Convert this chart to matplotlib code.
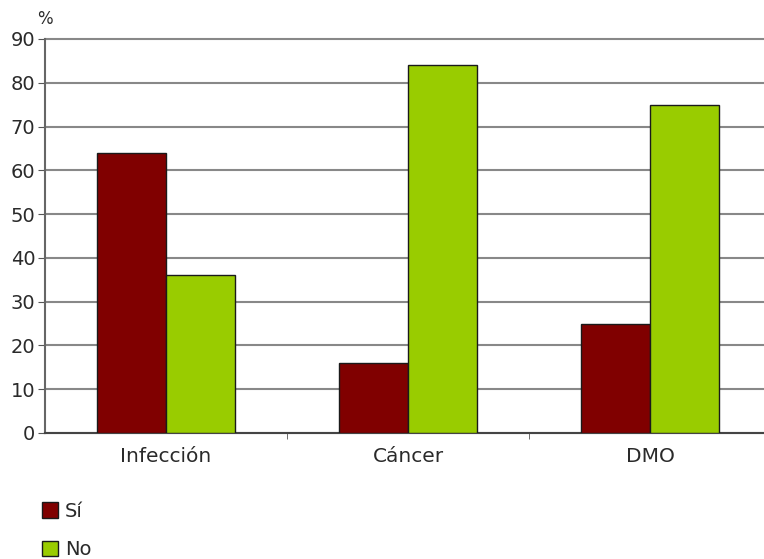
import matplotlib
matplotlib.use("Agg")
import matplotlib.pyplot as plt
import numpy as np

categories = ["Infección", "Cáncer", "DMO"]
si_values = [64, 16, 25]
no_values = [36, 84, 75]
series_labels = ["Sí", "No"]
y_ticks = [0, 10, 20, 30, 40, 50, 60, 70, 80, 90]

plt.rcParams["font.family"] = ["DejaVu Sans"]

W, H = 764, 559
fig = plt.figure(figsize=(W / 100, H / 100), dpi=100)
left_px, right_px, top_px, bottom_px = 45, 764, 39, 433
ax = fig.add_axes([left_px / W, 1 - bottom_px / H,
                   (right_px - left_px) / W, (bottom_px - top_px) / H])

x = np.arange(len(categories))
bw = 0.285
txt = "#2a2a2a"
ax.bar(x - bw / 2, si_values, bw, color="#800000", edgecolor="#1a1a1a",
       linewidth=1.0, label=series_labels[0], zorder=3)
ax.bar(x + bw / 2, no_values, bw, color="#99cc00", edgecolor="#1a1a1a",
       linewidth=1.0, label=series_labels[1], zorder=3)

ax.set_xlim(-0.5, (right_px - 166) / 242)
ax.set_ylim(0, 90)
ax.set_yticks(y_ticks)
ax.yaxis.grid(True, color="#888888", linewidth=1.5, zorder=0)
for gl in ax.get_ygridlines():
    gl.set_clip_on(False)
ax.set_axisbelow(True)

ax.set_xticks(x)
ax.set_xticklabels(categories)
ax.set_xticks([0.5, 1.5], minor=True)
ax.tick_params(axis="x", which="major", length=0, pad=10, labelsize=14.5, labelcolor=txt)
ax.tick_params(axis="x", which="minor", length=4, color="#555555", direction="out")
ax.tick_params(axis="y", length=5, color="#555555", pad=2, labelsize=14, labelcolor=txt)

for s in ["top", "right"]:
    ax.spines[s].set_visible(False)
ax.spines["left"].set_color("#666666")
ax.spines["left"].set_linewidth(1.5)
ax.spines["bottom"].set_color("#444444")
ax.spines["bottom"].set_linewidth(1.5)

fig.text(37 / W, 1 - 19 / H, "%", fontsize=12, color=txt, ha="left", va="center")

handles, labels = ax.get_legend_handles_labels()
fig.legend(handles, labels, loc="upper left", bbox_to_anchor=(32 / W, 1 - 492 / H),
           frameon=False, fontsize=14, handlelength=0.85, handleheight=0.85,
           handletextpad=0.35, labelspacing=1.0, labelcolor=txt, borderpad=0)

fig.savefig("out.png", dpi=100)
